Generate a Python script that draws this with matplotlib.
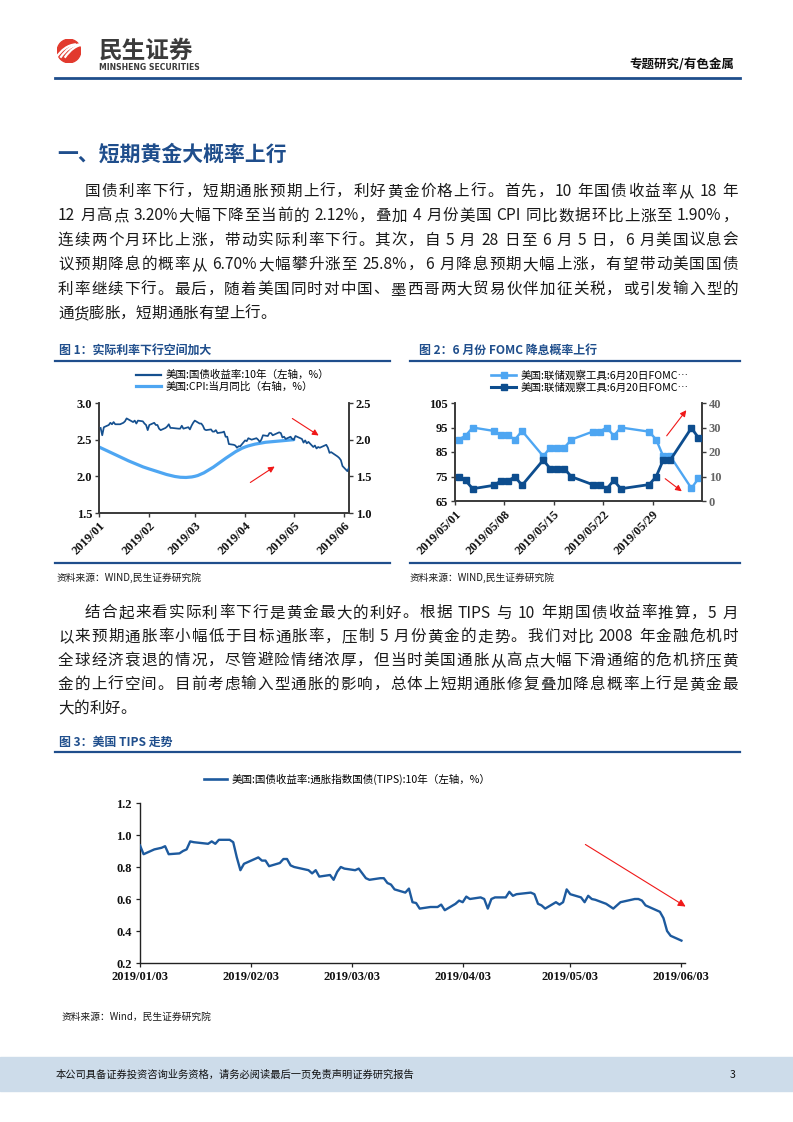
import re
import numpy as np
import pandas as pd
import matplotlib
matplotlib.use("Agg")
import matplotlib.pyplot as plt
import matplotlib.dates as mdates
from matplotlib.path import Path
from matplotlib.patches import PathPatch, Circle, Rectangle
from matplotlib.lines import Line2D

W, H = 793, 1122
CJK = ["Noto Sans CJK SC", "DejaVu Sans"]
NUM = ["Liberation Serif", "DejaVu Serif"]
NAVY = "#1f4e8c"
TXT = "#1a1a1a"
DARK = "#15508f"
LIGHT = "#4ea6f2"
RED = "#f01818"
HOLIDAYS = ["2019-01-21", "2019-02-18", "2019-04-19", "2019-05-27"]

# ---------------------------------------------------------------- data
# fig 1: US 10y treasury yield (daily, left axis) and CPI y/y (monthly, right axis)
y10_jan = [2.66, 2.56, 2.67, 2.70, 2.73, 2.71, 2.74, 2.71, 2.71, 2.72, 2.73,
           2.75, 2.79, 2.74, 2.76, 2.72, 2.76, 2.75, 2.72, 2.70, 2.63]
y10_feb = [2.70, 2.73, 2.70, 2.70, 2.65, 2.63, 2.66, 2.68, 2.71, 2.66, 2.66,
           2.65, 2.65, 2.69, 2.65, 2.67, 2.64, 2.69, 2.73]
y10_mar = [2.76, 2.72, 2.72, 2.69, 2.64, 2.63, 2.64, 2.61, 2.61, 2.63, 2.59,
           2.60, 2.61, 2.54, 2.54, 2.44, 2.43, 2.42, 2.39, 2.41, 2.41]
y10_apr = [2.49, 2.48, 2.52, 2.51, 2.50, 2.52, 2.50, 2.47, 2.50, 2.56, 2.55,
           2.59, 2.59, 2.56, 2.60, 2.59, 2.53, 2.54, 2.51, 2.54, 2.51]
y10_may = [2.50, 2.55, 2.54, 2.51, 2.46, 2.49, 2.45, 2.47, 2.40, 2.42, 2.38,
           2.40, 2.39, 2.42, 2.43, 2.39, 2.32, 2.33, 2.27, 2.25, 2.22, 2.14]
y10_jun = [2.07, 2.12]
y10_vals = y10_jan + y10_feb + y10_mar + y10_apr + y10_may + y10_jun
y10_dates = pd.bdate_range("2019-01-02", "2019-06-04", freq="C", holidays=HOLIDAYS)

cpi_dates = pd.to_datetime(["2019-01-01", "2019-02-01", "2019-03-01", "2019-04-01", "2019-05-01"])
cpi_vals = [1.9, 1.6, 1.5, 1.9, 2.0]

# fig 2: FedWatch probabilities for the June 20 FOMC
fomc_dates = pd.bdate_range("2019-05-01", "2019-06-04", freq="C", holidays=HOLIDAYS)
fomc_hold = [90.1, 91.6, 95.0, 93.6, 91.8, 91.8, 90.1, 93.6, 83.3, 86.8, 86.8, 86.8,
             90.1, 93.3, 93.3, 95.0, 91.6, 95.0, 93.3, 90.1, 83.3, 83.3, 70.2, 74.2]
fomc_cut = [9.9, 8.4, 5.0, 6.4, 8.2, 8.2, 9.9, 6.4, 16.7, 13.2, 13.2, 13.2,
            9.9, 6.7, 6.7, 5.0, 8.4, 5.0, 6.7, 9.9, 16.7, 16.7, 29.8, 25.8]

# fig 3: 10y TIPS yield
tips_jan = [0.935, 0.88, 0.91, 0.915, 0.92, 0.93, 0.88, 0.885, 0.90, 0.91, 0.96,
            0.955, 0.945, 0.96, 0.945, 0.97, 0.97, 0.955, 0.86, 0.78]
tips_feb = [0.82, 0.85, 0.86, 0.84, 0.84, 0.805, 0.825, 0.85, 0.85, 0.81, 0.80,
            0.78, 0.76, 0.78, 0.74, 0.75, 0.72, 0.77, 0.80]
tips_mar = [0.79, 0.78, 0.79, 0.76, 0.73, 0.72, 0.73, 0.73, 0.70, 0.69, 0.66,
            0.64, 0.665, 0.58, 0.575, 0.54, 0.55, 0.55, 0.55, 0.565, 0.53]
tips_apr = [0.57, 0.59, 0.58, 0.615, 0.60, 0.61, 0.60, 0.54, 0.60, 0.61, 0.61,
            0.645, 0.62, 0.63, 0.64, 0.63, 0.57, 0.56, 0.54, 0.58, 0.565]
tips_may = [0.58, 0.66, 0.63, 0.61, 0.58, 0.62, 0.60, 0.595, 0.57, 0.555, 0.54,
            0.56, 0.58, 0.595, 0.60, 0.60, 0.59, 0.56, 0.52, 0.48, 0.40, 0.37]
tips_jun = [0.34]
tips_vals = tips_jan + tips_feb + tips_mar + tips_apr + tips_may + tips_jun
tips_dates = pd.bdate_range("2019-01-03", "2019-06-03", freq="C", holidays=HOLIDAYS)
tips_ticks = pd.to_datetime(["2019-01-03", "2019-02-03", "2019-03-03",
                             "2019-04-03", "2019-05-03", "2019-06-03"])

para1 = ["国债利率下行，短期通胀预期上行，利好黄金价格上行。首先，10 年国债收益率从 18 年",
         "12 月高点 3.20%大幅下降至当前的 2.12%，叠加 4 月份美国 CPI 同比数据环比上涨至 1.90%，",
         "连续两个月环比上涨，带动实际利率下行。其次，自 5 月 28 日至 6 月 5 日，6 月美国议息会",
         "议预期降息的概率从 6.70%大幅攀升涨至 25.8%，6 月降息预期大幅上涨，有望带动美国国债",
         "利率继续下行。最后，随着美国同时对中国、墨西哥两大贸易伙伴加征关税，或引发输入型的",
         "通货膨胀，短期通胀有望上行。"]
para2 = ["结合起来看实际利率下行是黄金最大的利好。根据 TIPS 与 10 年期国债收益率推算，5 月",
         "以来预期通胀率小幅低于目标通胀率，压制 5 月份黄金的走势。我们对比 2008 年金融危机时",
         "全球经济衰退的情况，尽管避险情绪浓厚，但当时美国通胀从高点大幅下滑通缩的危机挤压黄",
         "金的上行空间。目前考虑输入型通胀的影响，总体上短期通胀修复叠加降息概率上行是黄金最",
         "大的利好。"]

# ---------------------------------------------------------------- page helpers
plt.rcParams["font.family"] = CJK
fig = plt.figure(figsize=(W / 100, H / 100), dpi=100)
renderer = fig.canvas.get_renderer()


def fx(x): return x / W
def fy(y): return 1 - y / H


def add_ax(l, t, r, b):
    return fig.add_axes([fx(l), fy(b), (r - l) / W, (b - t) / H])


def hline(x0, x1, y, lw=1.6, color=NAVY):
    fig.add_artist(Line2D([fx(x0), fx(x1)], [fy(y), fy(y)], transform=fig.transFigure,
                          color=color, lw=lw))


def text_w(s, size):
    t = fig.text(0, 0, s, fontsize=size)
    w = t.get_window_extent(renderer).width
    t.remove()
    return w


def para_line(s, x0, x1, y, size=11.2, justify=True):
    toks = re.findall(r"[A-Za-z0-9.%]+| |[^ A-Za-z0-9.%]", s)
    em = size * 100 / 72
    ws = []
    for t in toks:
        if t == " ":
            ws.append(0.22 * em)
        elif ord(t[0]) > 127:
            ws.append(em)
        else:
            ws.append(text_w(t, size))
    gap = (x1 - x0 - sum(ws)) / (len(toks) - 1) if justify else 0.0
    x = x0
    for t, w in zip(toks, ws):
        if t != " ":
            fig.text(fx(x), fy(y), t, fontsize=size, color=TXT, va="baseline")
        x += w + gap


def arrow(x0, y0, x1, y1, ms=9):
    fig.add_artist(matplotlib.patches.FancyArrowPatch(
        (fx(x0), fy(y0)), (fx(x1), fy(y1)), transform=fig.transFigure,
        arrowstyle="-|>", mutation_scale=ms, color=RED, lw=0.8))


def smooth_path(xs, ys):
    pts = np.column_stack([xs, ys])
    n = len(pts)
    verts, codes = [pts[0]], [Path.MOVETO]
    for i in range(n - 1):
        p0, p1, p2, p3 = pts[max(i - 1, 0)], pts[i], pts[i + 1], pts[min(i + 2, n - 1)]
        verts += [p1 + (p2 - p0) / 6, p2 - (p3 - p1) / 6, p2]
        codes += [Path.CURVE4] * 3
    return Path(verts, codes)


TICKF = dict(fontfamily=NUM, fontweight="bold", fontsize=9, color="#111111")
SPC = "#3a3a3a"

# ---------------------------------------------------------------- header
lax = add_ax(57, 39, 81, 63)
lax.set_xlim(0, 1); lax.set_ylim(0, 1); lax.axis("off")
lax.add_patch(Circle((0.5, 0.5), 0.49, color="#e23a2e"))
for off in (-0.16, 0.02, 0.2):
    lax.add_patch(PathPatch(Path([(0.12 + off, 0.22), (0.35 + off, 0.55), (0.6 + off, 0.75), (0.95 + off, 0.78)],
                                 [Path.MOVETO, Path.CURVE4, Path.CURVE4, Path.CURVE4]),
                            fill=False, ec="white", lw=1.6))
fig.text(fx(99), fy(51), "民生证券", fontsize=17, weight="bold", color="#3b3b3b", va="center")
fig.text(fx(99), fy(68), "MINSHENG SECURITIES", fontsize=5.6, weight="bold", color="#3b3b3b",
         va="center", family=["DejaVu Sans"])
fig.text(fx(734), fy(65), "专题研究/有色金属", fontsize=9, weight="bold", color="#111111",
         ha="right", va="center")
hline(55, 740, 77.5, lw=2.0)

# ---------------------------------------------------------------- section 1 text
fig.text(fx(57), fy(154), "一、短期黄金大概率上行", fontsize=15, weight="bold", color=NAVY, va="center")
for i, s in enumerate(para1):
    x0 = 85 if i == 0 else 58
    para_line(s, x0, 738, 196 + i * 24.4, justify=i < len(para1) - 1)

# ---------------------------------------------------------------- figure titles / rules
fig.text(fx(59), fy(350.5), "图 1：实际利率下行空间加大", fontsize=8.6, weight="bold", color=NAVY, va="center")
fig.text(fx(419), fy(350.5), "图 2：6 月份 FOMC 降息概率上行", fontsize=8.6, weight="bold", color=NAVY, va="center")
hline(55, 390, 361)
hline(410, 740, 361)
hline(55, 390, 562.5)
hline(410, 740, 562.5)
fig.text(fx(57), fy(578), "资料来源：WIND,民生证券研究院", fontsize=7, color=TXT, va="center")
fig.text(fx(410), fy(578), "资料来源：WIND,民生证券研究院", fontsize=7, color=TXT, va="center")

# ---------------------------------------------------------------- fig 1
ax1 = add_ax(99, 403, 349, 513)
ax1.plot(y10_dates, y10_vals, color=DARK, lw=1.25, zorder=3)
yt = [1.5, 2.0, 2.5, 3.0]
ax1.set_yticks(yt, [f"{v:.1f}" for v in yt], **TICKF)
ax1.set_ylim(1.5, 3.0)
months = pd.date_range("2019-01-01", periods=6, freq="MS")
ax1.set_xticks(months, [d.strftime("%Y/%m") for d in months], rotation=45, ha="right",
               rotation_mode="anchor", **TICKF)
ax1.set_xlim(pd.Timestamp("2019-01-01"), pd.Timestamp("2019-06-04"))
ax1b = ax1.twinx()
yt2 = [1.0, 1.5, 2.0, 2.5]
ax1b.set_yticks(yt2, [f"{v:.1f}" for v in yt2], **TICKF)
ax1b.set_ylim(1.0, 2.5)
ax1b.add_patch(PathPatch(smooth_path(mdates.date2num(cpi_dates), cpi_vals), fill=False,
                         ec=LIGHT, lw=2.3, capstyle="round", zorder=2))
for a in (ax1, ax1b):
    a.spines["top"].set_visible(False)
    for sp in ("left", "right", "bottom"):
        a.spines[sp].set_color(SPC); a.spines[sp].set_linewidth(1.2)
    a.tick_params(length=3, width=1, color=SPC, pad=2)
ax1.set_zorder(ax1b.get_zorder() + 1); ax1.patch.set_visible(False)
fig.legend([Line2D([], [], color=DARK, lw=1.6), Line2D([], [], color=LIGHT, lw=2.3)],
           ["美国:国债收益率:10年（左轴，%）", "美国:CPI:当月同比（右轴，%）"],
           loc="upper left", bbox_to_anchor=(fx(136), fy(370)), frameon=False, fontsize=7.6,
           handlelength=2.4, handletextpad=0.4, labelspacing=0.15, borderpad=0, borderaxespad=0)
arrow(290, 417, 321, 437)
arrow(248, 484, 277, 465)

# ---------------------------------------------------------------- fig 2
ax2 = add_ax(455, 403, 702, 501)
x2 = fomc_dates + pd.Timedelta(hours=12)
ax2.plot(x2, fomc_hold, color=LIGHT, lw=1.7, marker="s", ms=4, zorder=3)
yt = [65, 75, 85, 95, 105]
ax2.set_yticks(yt, [str(v) for v in yt], **TICKF)
ax2.set_ylim(65, 105)
wk = pd.date_range("2019-05-01", periods=5, freq="7D")
ax2.set_xticks(wk, [d.strftime("%Y/%m/%d") for d in wk], rotation=45, ha="right",
               rotation_mode="anchor", **TICKF)
ax2.set_xlim(pd.Timestamp("2019-05-01"), pd.Timestamp("2019-06-05"))
ax2b = ax2.twinx()
ax2b.plot(x2, fomc_cut, color="#0d4d8e", lw=2.0, marker="s", ms=4.6, zorder=3)
yt2 = [0, 10, 20, 30, 40]
ax2b.set_yticks(yt2, [str(v) for v in yt2], fontfamily=NUM, fontweight="bold", fontsize=9, color="#666666")
ax2b.set_ylim(0, 40)
for a in (ax2, ax2b):
    a.spines["top"].set_visible(False)
    for sp in ("left", "right", "bottom"):
        a.spines[sp].set_color(SPC); a.spines[sp].set_linewidth(1.2)
    a.tick_params(length=3, width=1, color=SPC, pad=2)
fig.legend([Line2D([], [], color=LIGHT, lw=1.9, marker="s", ms=4.5),
            Line2D([], [], color="#0d4d8e", lw=2.2, marker="s", ms=5)],
           ["美国:联储观察工具:6月20日FOMC…", "美国:联储观察工具:6月20日FOMC…"],
           loc="upper left", bbox_to_anchor=(fx(491), fy(370)), frameon=False, fontsize=7.6,
           handlelength=2.4, handletextpad=0.4, labelspacing=0.15, borderpad=0, borderaxespad=0)
arrow(665, 438, 688, 408)
arrow(663, 477, 684, 493)

# ---------------------------------------------------------------- section 2 text
for i, s in enumerate(para2):
    x0 = 85 if i == 0 else 58
    para_line(s, x0, 738, 617.5 + i * 23.8, justify=i < len(para2) - 1)

# ---------------------------------------------------------------- fig 3
fig.text(fx(59), fy(742.5), "图 3：美国 TIPS 走势", fontsize=8.6, weight="bold", color=NAVY, va="center")
hline(55, 740, 751.5)
ax3 = add_ax(140, 803, 685, 963)
ax3.plot(tips_dates, tips_vals, color="#1d5a9e", lw=1.7, zorder=3)
yt = [0.2, 0.4, 0.6, 0.8, 1.0, 1.2]
ax3.set_yticks(yt, [f"{v:.1f}" for v in yt], **TICKF)
ax3.set_ylim(0.2, 1.2)
ax3.set_xticks(tips_ticks, [d.strftime("%Y/%m/%d") for d in tips_ticks], **TICKF)
ax3.set_xlim(pd.Timestamp("2019-01-03"), pd.Timestamp("2019-06-04"))
for sp in ("top", "right"):
    ax3.spines[sp].set_visible(False)
for sp in ("left", "bottom"):
    ax3.spines[sp].set_color("#222222"); ax3.spines[sp].set_linewidth(1.0)
ax3.tick_params(length=3, width=0.9, color="#222222", pad=3)
fig.legend([Line2D([], [], color="#1d5a9e", lw=1.9)],
           ["美国:国债收益率:通胀指数国债(TIPS):10年（左轴，%）"],
           loc="upper left", bbox_to_anchor=(fx(204), fy(774)), frameon=False, fontsize=7.6,
           handlelength=2.2, handletextpad=0.4, borderpad=0, borderaxespad=0)
arrow(583, 843, 688, 908, ms=11)
fig.text(fx(62), fy(1017), "资料来源：Wind，民生证券研究院", fontsize=7, color=TXT, va="center")

# ---------------------------------------------------------------- footer
fig.add_artist(Rectangle((0, fy(1091)), 1, (1091 - 1057) / H, transform=fig.transFigure,
                         color="#cddcea", zorder=0))
fig.text(fx(56), fy(1074.5), "本公司具备证券投资咨询业务资格，请务必阅读最后一页免责声明证券研究报告",
         fontsize=7.4, color="#111111", va="center")
fig.text(fx(736), fy(1074.5), "3", fontsize=7.6, color="#111111", va="center", ha="right")

fig.savefig("out.png", dpi=100)
